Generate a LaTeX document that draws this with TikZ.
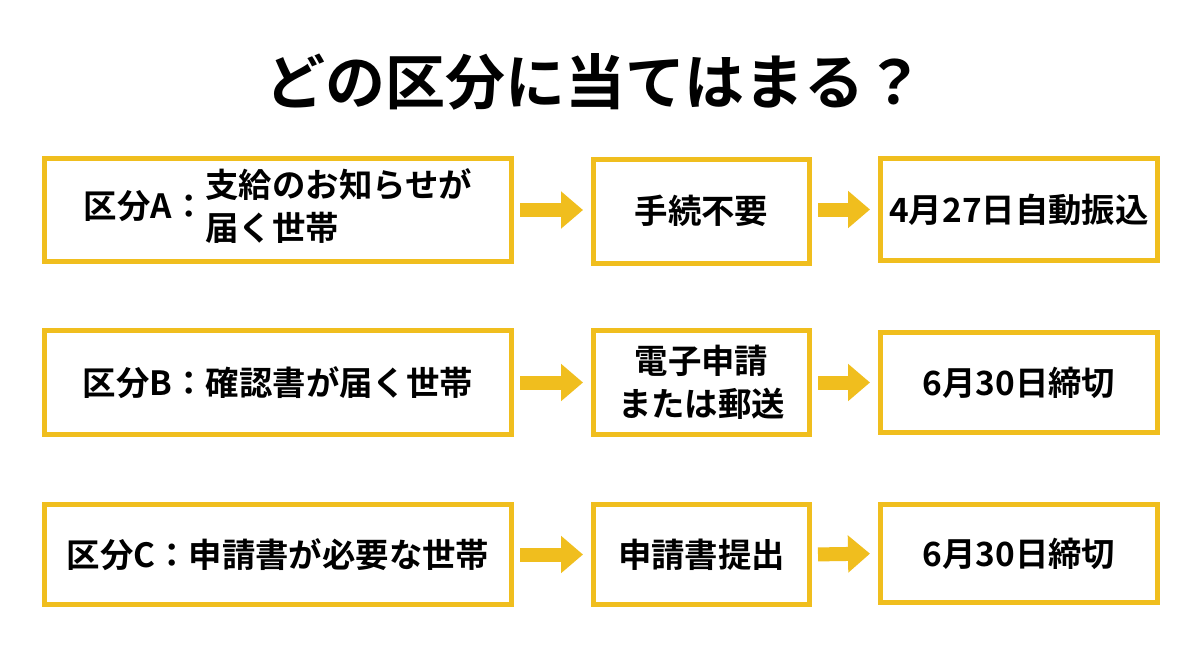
\documentclass[tikz,border=0pt]{standalone}
\usepackage{fontspec}
\setmainfont{Noto Sans CJK JP}[BoldFont={* Bold}]
\usetikzlibrary{arrows.meta}
\definecolor{gold}{HTML}{F0BE1E}
\begin{document}
\begin{tikzpicture}[x=0.5pt,y=-0.5pt,
  box/.style={draw=gold, line width=2.5pt, fill=white, inner sep=0pt,
    font=\fontsize{16.7}{21.5}\selectfont\bfseries, align=center},
  flow/.style={draw=gold, line width=7pt, -{Triangle[length=11pt,width=18pt]},
    shorten <=3pt, shorten >=4pt}
]
\useasboundingbox[fill=white] (0,0) rectangle (1200,655);
\node[font=\fontsize{30}{36}\selectfont\bfseries] (title) at (595,82) {どの区分に当てはまる？};

% row 1
\node[box, minimum width=233.5pt, minimum height=51.5pt] (a1) at (278,210)
  {区分A：\begin{tabular}[c]{@{}l@{}}支給のお知らせが\\届く世帯\end{tabular}};
\node[box, minimum width=108pt, minimum height=52pt] (b1) at (701.5,211) {手続不要};
\node[box, minimum width=138.5pt, minimum height=51pt] (c1) at (1019,209.5) {4月27日自動振込};
% row 2
\node[box, minimum width=233.5pt, minimum height=52pt] (a2) at (278,382.5) {区分B：確認書が届く世帯};
\node[box, minimum width=108pt, minimum height=52pt] (b2) at (701.5,382.5) {電子申請\\または郵送};
\node[box, minimum width=138.5pt, minimum height=50pt] (c2) at (1019,382.5) {6月30日締切};
% row 3
\node[box, minimum width=233.5pt, minimum height=50pt] (a3) at (278,554.5) {区分C：申請書が必要な世帯};
\node[box, minimum width=108pt, minimum height=50pt] (b3) at (701.5,554.5) {申請書提出};
\node[box, minimum width=138.5pt, minimum height=49pt] (c3) at (1019,553.5) {6月30日締切};

\draw[flow] (a1.east) -- (b1.west |- a1.east);
\draw[flow] (b1.east |- c1.west) -- (c1.west);
\draw[flow] (a2.east) -- (b2.west);
\draw[flow] (b2.east) -- (c2.west);
\draw[flow] (a3.east) -- (b3.west);
\draw[flow] (b3.east) -- (c3.west);
\end{tikzpicture}
\end{document}
